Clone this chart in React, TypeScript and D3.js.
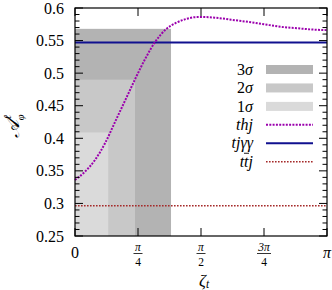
import React from "react";
import * as d3 from "d3";

// zeta in units of pi
const thjZetaOverPi = [0, 0.04, 0.08, 0.12, 0.16, 0.2, 0.24, 0.28, 0.32, 0.36, 0.4, 0.44, 0.48, 0.52, 0.56, 0.62, 0.7, 0.75, 0.82, 0.88, 0.94, 1.0];
const thjValues = [0.336, 0.349, 0.367, 0.393, 0.426, 0.459, 0.492, 0.523, 0.549, 0.567, 0.577, 0.583, 0.586, 0.586, 0.585, 0.582, 0.578, 0.575, 0.571, 0.569, 0.567, 0.566];
const tjaaValue = 0.547;
const ttjValue = 0.2965;
// bands: [label, zeta max (units of pi), value top]
const bandLabels = ["3σ", "2σ", "1σ"];
const bandZetaMaxOverPi = [0.381, 0.238, 0.132];
const bandTops = [0.568, 0.49, 0.409];
const bandColors = ["#b3b3b3", "#c8c8c8", "#dadada"];
const yMajorTicks = [0.25, 0.3, 0.35, 0.4, 0.45, 0.5, 0.55, 0.6];
const yTickLabels = ["0.25", "0.3", "0.35", "0.4", "0.45", "0.5", "0.55", "0.6"];
const xTicksOverPi = [0, 0.25, 0.5, 0.75, 1];

const W = 332, H = 290;
const L = 75, R = 327, T = 8, B = 236;
const serif = "'Liberation Serif', 'DejaVu Serif', serif";

export default function App() {
  const x = d3.scaleLinear().domain([0, Math.PI]).range([L, R]);
  const y = d3.scaleLinear().domain([0.25, 0.6]).range([B, T]);
  const line = d3.line<[number, number]>().x(d => x(d[0])).y(d => y(d[1])).curve(d3.curveMonotoneX);
  const thjPts: [number, number][] = thjZetaOverPi.map((z, i) => [z * Math.PI, thjValues[i]]);
  const minor = d3.range(0, 36).map(i => 0.25 + i * 0.01).filter(v => v < 0.6 + 1e-9);

  const legendRows = [
    { label: "3σ", kind: "rect", color: bandColors[0] },
    { label: "2σ", kind: "rect", color: bandColors[1] },
    { label: "1σ", kind: "rect", color: bandColors[2] },
    { label: "thj", kind: "thj" },
    { label: "tjγγ", kind: "tjaa" },
    { label: "ttj", kind: "ttj" },
  ];
  const legY0 = 69.5, legDy = 18.45, legX0 = 266, legX1 = 313, legTextX = 253;

  return (
    <svg width={W} height={H} style={{ position: "absolute", left: 0, top: 0 }} fontFamily={serif}>
      <rect x={0} y={0} width={W} height={H} fill="#fff" />
      {/* bands, widest first */}
      {bandLabels.map((b, i) => (
        <rect key={b} x={x(0)} y={y(bandTops[i])} width={x(bandZetaMaxOverPi[i] * Math.PI) - x(0)} height={y(0.25) - y(bandTops[i])} fill={bandColors[i]} />
      ))}
      {/* lines */}
      <line x1={x(0)} x2={x(Math.PI)} y1={y(ttjValue)} y2={y(ttjValue)} stroke="#a52a2a" strokeWidth={1.4} strokeDasharray="1.6,1.4" />
      <line x1={x(0)} x2={x(Math.PI)} y1={y(tjaaValue)} y2={y(tjaaValue)} stroke="#10108f" strokeWidth={2} />
      <path d={line(thjPts) || ""} fill="none" stroke="#9b00ad" strokeWidth={2} strokeDasharray="2,1.3" />
      {/* frame */}
      <rect x={L} y={T} width={R - L} height={B - T} fill="none" stroke="#000" strokeWidth={1.2} />
      {/* y ticks */}
      {minor.map((v, i) => {
        const isMajor = Math.abs((v - 0.25) / 0.05 - Math.round((v - 0.25) / 0.05)) < 1e-6;
        const len = isMajor ? 8 : 4.5;
        return (
          <g key={i}>
            <line x1={L} x2={L + len} y1={y(v)} y2={y(v)} stroke="#000" strokeWidth={1} />
            <line x1={R} x2={R - len} y1={y(v)} y2={y(v)} stroke="#000" strokeWidth={1} />
          </g>
        );
      })}
      {yMajorTicks.map((v, i) => (
        <text key={v} x={64} y={y(v)} dy="0.35em" textAnchor="end" fontSize={16} fill="#000">{yTickLabels[i]}</text>
      ))}
      {/* x ticks */}
      {xTicksOverPi.map(z => (
        <g key={z}>
          <line x1={x(z * Math.PI)} x2={x(z * Math.PI)} y1={B} y2={B - 8} stroke="#000" strokeWidth={1} />
          <line x1={x(z * Math.PI)} x2={x(z * Math.PI)} y1={T} y2={T + 8} stroke="#000" strokeWidth={1} />
        </g>
      ))}
      <text x={x(0)} y={258} textAnchor="middle" fontSize={16}>0</text>
      <text x={x(Math.PI)} y={258} textAnchor="middle" fontSize={16} fontStyle="italic">π</text>
      {[{ z: 0.25, n: "π", d: "4" }, { z: 0.5, n: "π", d: "2" }, { z: 0.75, n: "3π", d: "4" }].map(f => (
        <g key={f.z}>
          <text x={x(f.z * Math.PI)} y={250.5} textAnchor="middle" fontSize={11.5} fontStyle="italic">{f.n}</text>
          <line x1={x(f.z * Math.PI) - (f.n.length > 1 ? 7 : 4.5)} x2={x(f.z * Math.PI) + (f.n.length > 1 ? 7 : 4.5)} y1={253.5} y2={253.5} stroke="#000" strokeWidth={0.8} />
          <text x={x(f.z * Math.PI)} y={265.5} textAnchor="middle" fontSize={11.5}>{f.d}</text>
        </g>
      ))}
      {/* axis labels */}
      <text x={199} y={286} fontSize={17} fontStyle="italic">ζ<tspan fontSize={11.5} dy={2}>t</tspan></text>
      <g transform="translate(19,126) rotate(-90)">
        <text x={0} y={0} textAnchor="middle" fontSize={19} fontStyle="italic">𝒜<tspan fontSize={10.5} dy={-8}>ℓ</tspan><tspan fontSize={10.5} dx={-5} dy={13}>φ</tspan></text>
      </g>
      {/* legend */}
      {legendRows.map((r, i) => {
        const cy = legY0 + i * legDy;
        return (
          <g key={r.label}>
            {r.kind === "ttj" ? (
              <text x={legTextX} y={cy} dy="0.32em" textAnchor="end" fontSize={16} fontStyle="italic">ttj</text>
            ) : r.kind === "rect" ? (
              <text x={legTextX} y={cy} dy="0.32em" textAnchor="end" fontSize={16}>{r.label[0]}<tspan fontStyle="italic">σ</tspan></text>
            ) : (
              <text x={legTextX} y={cy} dy="0.32em" textAnchor="end" fontSize={16} fontStyle="italic">{r.label}</text>
            )}
            {r.kind === "ttj" && <line x1={legTextX - 9} x2={legTextX - 4} y1={cy - 8.5} y2={cy - 8.5} stroke="#000" strokeWidth={0.9} />}
            {r.kind === "rect" && <rect x={legX0} y={cy - 4.5} width={legX1 - legX0} height={9} fill={r.color} />}
            {r.kind === "thj" && <line x1={legX0} x2={legX1} y1={cy} y2={cy} stroke="#9b00ad" strokeWidth={2} strokeDasharray="2,1.3" />}
            {r.kind === "tjaa" && <line x1={legX0} x2={legX1} y1={cy} y2={cy} stroke="#10108f" strokeWidth={2} />}
            {r.kind === "ttj" && <line x1={legX0} x2={legX1} y1={cy} y2={cy} stroke="#a52a2a" strokeWidth={1.4} strokeDasharray="1.6,1.4" />}
          </g>
        );
      })}
    </svg>
  );
}
